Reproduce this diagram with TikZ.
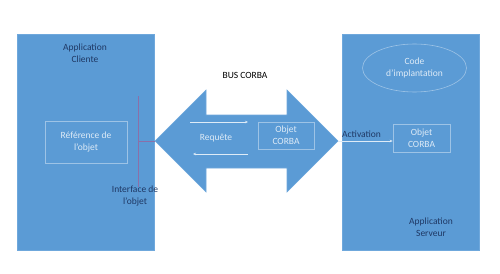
\documentclass[tikz,border=0pt]{standalone}
\usepackage{fontspec}
\setmainfont{Carlito}
\usetikzlibrary{arrows.meta,shapes.geometric}
\definecolor{offblue}{HTML}{5B9BD5}
\definecolor{edgeblue}{HTML}{6FA8DC}
\definecolor{lightb}{HTML}{DEEBF7}
\definecolor{innerb}{HTML}{9DC3E6}
\definecolor{navy}{HTML}{1F3864}
\definecolor{purp}{HTML}{8B6FA8}
\tikzset{
  panel/.style={draw=edgeblue, fill=offblue, line width=0.6pt},
  inner/.style={draw=innerb, line width=0.6pt, text=lightb, align=center, inner sep=0pt},
  lbl/.style={font=\fontsize{9.5}{12}\selectfont, align=center, inner sep=0pt},
  thinarr/.style={draw=lightb, line width=0.6pt, -{Stealth[length=3pt,width=2.5pt]}},
}
\begin{document}
\begin{tikzpicture}[x=1pt,y=-1pt]
\useasboundingbox (0,0) rectangle (500,273);
% panels
\node[panel, minimum width=137pt, minimum height=216pt, inner sep=0pt] (client) at (85.5,142) {};
\node[panel, minimum width=137pt, minimum height=216pt, inner sep=0pt] (server) at (410.5,142) {};
% bus arrow
\draw[fill=offblue, draw=edgeblue, line width=0.6pt]
  (155,141) -- (206,90) -- (206,115) -- (287,115) -- (287,90) -- (338,141)
  -- (287,192) -- (287,168) -- (206,168) -- (206,192) -- cycle;
\coordinate (busR) at (338,141);
\coordinate (busL) at (155,141);
% texts
\node[lbl, text=navy] (appc) at (85,53) {Application\\Cliente};
\node[lbl, text=black] (bus) at (245,75) {BUS CORBA};
\node[lbl, text=navy] (apps) at (431,227) {Application\\Serveur};
% client inner box
\node[inner, lbl, text=lightb, minimum width=82pt, minimum height=42pt] (ref) at (86,142) {Référence de\\l’objet};
% interface
\coordinate (itop) at (138,96);
\coordinate (ibot) at (138,187);
\coordinate (imid) at (138,141);
\draw[purp, line width=0.8pt] (itop) -- (ibot);
\draw[purp, line width=0.8pt] (imid) -- (busL);
\node[lbl, text=navy] (iface) at (135,196.5) {Interface de\\l’objet};
% bus contents
\node[lbl, text=lightb] (req) at (216,138) {Requête};
\node[inner, lbl, minimum width=56pt, minimum height=27pt] (objbus) at (286,135.5) {Objet\\CORBA};
\coordinate (a1s) at (190,122);
\coordinate (a1e) at (248,122);
\coordinate (a2s) at (248,154);
\coordinate (a2e) at (193,154);
\draw[thinarr] (a1s) -- (a1e);
\draw[thinarr] (a2s) -- (a2e);
% server contents
\node[draw=innerb, line width=0.6pt, ellipse, minimum width=104pt, minimum height=48pt, inner sep=0pt] (code) at (414.5,68) {};
\node[lbl, text=lightb] at (code) {Code\\d’implantation};
\node[inner, lbl, minimum width=57pt, minimum height=28pt] (objsrv) at (421.5,138) {Objet\\CORBA};
\node[lbl, text=navy, anchor=south west] (act) at (342,138) {Activation};
\draw[thinarr] (busR) -- (objsrv.west |- busR);
\end{tikzpicture}
\end{document}
